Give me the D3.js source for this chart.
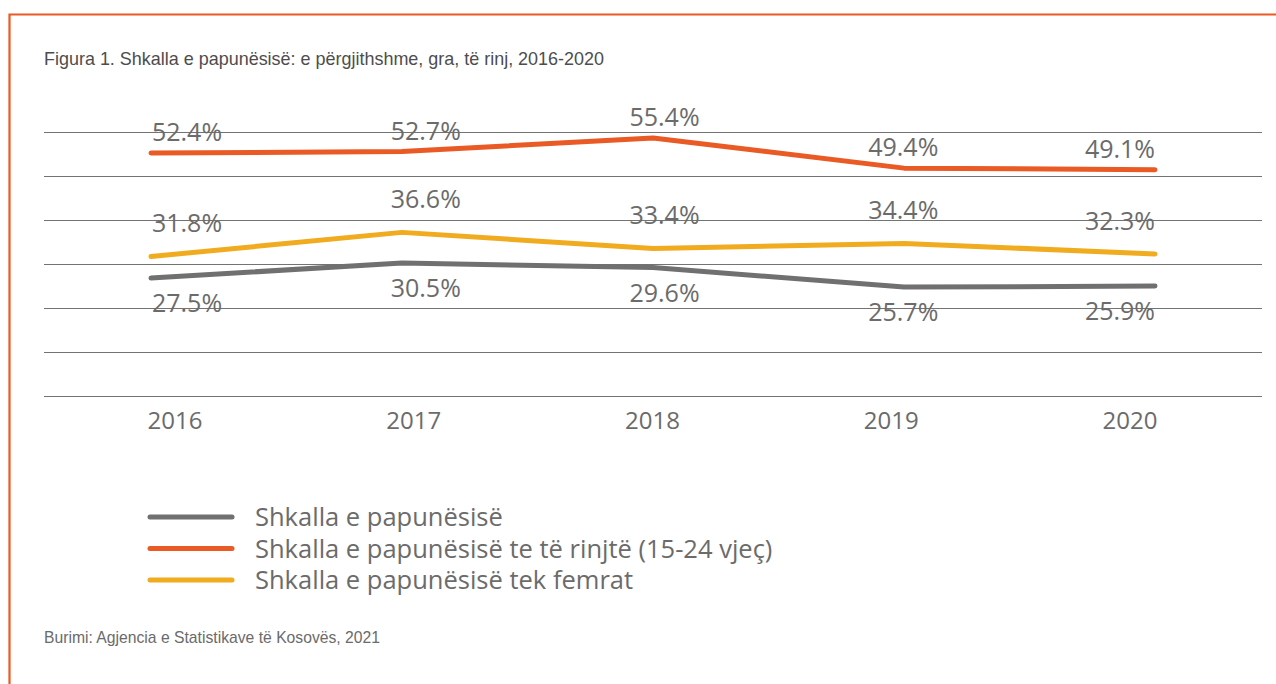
<!DOCTYPE html>
<html>
<head>
<meta charset="utf-8">
<script src="https://cdn.jsdelivr.net/npm/d3@7"></script>
<style>
	body { margin: 0; background: #fff; }
	text { font-family: "Open Sans", sans-serif; }
</style>
</head>
<body>
<div id="graph"></div>
<script>
const years = ["2016", "2017", "2018", "2019", "2020"];
const totalRate = [27.5, 30.5, 29.6, 25.7, 25.9];
const youthRate = [52.4, 52.7, 55.4, 49.4, 49.1];
const womenRate = [31.8, 36.6, 33.4, 34.4, 32.3];
const seriesNames = [
	"Shkalla e papunësisë",
	"Shkalla e papunësisë te të rinjtë (15-24 vjeç)",
	"Shkalla e papunësisë tek femrat"
];
const titleText = "Figura 1. Shkalla e papunësisë: e përgjithshme, gra, të rinj, 2016-2020";
const sourceText = "Burimi: Agjencia e Statistikave të Kosovës, 2021";

const createGraph = () => {
	let width = 1276;
	let height = 684;

	var svg = d3.select("#graph")
		.append("svg")
		.attr("width", width)
		.attr("height", height);

	// orange frame (top and left edges)
	svg.append("path")
		.attr("d", "M9.5,684 V14.5 H1276")
		.attr("fill", "none")
		.attr("stroke", "#e95a24")
		.attr("stroke-width", 2.2);

	svg.append("text")
		.attr("x", 44)
		.attr("y", 65)
		.attr("textLength", 560)
		.attr("lengthAdjust", "spacingAndGlyphs")
		.style("font-family", "'Liberation Sans Narrow', 'Liberation Sans', sans-serif")
		.style("font-size", "18.5px")
		.attr("fill", "#4d4d4d")
		.text(titleText);

	// scales
	var y = d3.scaleLinear().domain([4, 56.6]).range([396, 132]);
	var xLine = d3.scalePoint().domain(years).range([151, 1155]);
	var xYear = d3.scalePoint().domain(years).range([175, 1130]);
	var xLabel = d3.scalePoint().domain(years).range([187, 1142]);

	// gridlines, evenly spread over the y domain
	const dom = y.domain();
	const grid = d3.range(7).map(i => dom[0] + i * (dom[1] - dom[0]) / 6);
	svg.selectAll(".grid")
		.data(grid)
		.enter()
		.append("line")
		.attr("x1", 44)
		.attr("x2", 1262)
		.attr("y1", d => Math.round(y(d)) + 0.5)
		.attr("y2", d => Math.round(y(d)) + 0.5)
		.attr("stroke", "#737373")
		.attr("stroke-width", 1.2);

	// year labels
	svg.selectAll(".year")
		.data(years)
		.enter()
		.append("text")
		.attr("x", d => xYear(d))
		.attr("y", 429)
		.attr("text-anchor", "middle")
		.style("font-size", "24px")
		.attr("fill", "#6b6b6b")
		.text(d => d);

	const series = [
		{name: seriesNames[0], values: totalRate, color: "#707070", dy: 34},
		{name: seriesNames[1], values: youthRate, color: "#e95a24", dy: -12},
		{name: seriesNames[2], values: womenRate, color: "#f0ab1f", dy: -24}
	];

	var line = d3.line()
		.x((d, i) => xLine(years[i]))
		.y(d => y(d));

	// draw order: yellow, orange, gray on top
	[series[2], series[1], series[0]].forEach(s => {
		svg.append("path")
			.attr("d", line(s.values))
			.attr("fill", "none")
			.attr("stroke", s.color)
			.attr("stroke-width", 5)
			.attr("stroke-linecap", "round")
			.attr("stroke-linejoin", "round");
	});

	// value labels
	series.forEach(s => {
		svg.selectAll(null)
			.data(s.values)
			.enter()
			.append("text")
			.attr("x", (d, i) => i === years.length - 1 ? xLine(years[i]) : xLabel(years[i]))
			.attr("y", d => y(d) + s.dy)
			.attr("text-anchor", (d, i) => i === years.length - 1 ? "end" : "middle")
			.style("font-size", "25px")
			.attr("fill", "#6b6b6b")
			.text(d => d.toFixed(1) + "%");
	});

	// legend
	var legend = svg.selectAll(".legend")
		.data(series)
		.enter()
		.append("g")
		.attr("transform", (d, i) => "translate(150," + (517 + i * 31.5) + ")");
	legend.append("line")
		.attr("x1", 0)
		.attr("x2", 82)
		.attr("stroke", d => d.color)
		.attr("stroke-width", 5)
		.attr("stroke-linecap", "round");
	legend.append("text")
		.attr("x", 105)
		.attr("y", 9)
		.style("font-size", "25.5px")
		.attr("fill", "#6b6b6b")
		.text(d => d.name);

	svg.append("text")
		.attr("x", 44)
		.attr("y", 643)
		.attr("textLength", 336)
		.attr("lengthAdjust", "spacingAndGlyphs")
		.style("font-family", "'Liberation Sans Narrow', 'Liberation Sans', sans-serif")
		.style("font-size", "17px")
		.attr("fill", "#6b6b6b")
		.text(sourceText);
}

createGraph();
</script>
</body>
</html>
